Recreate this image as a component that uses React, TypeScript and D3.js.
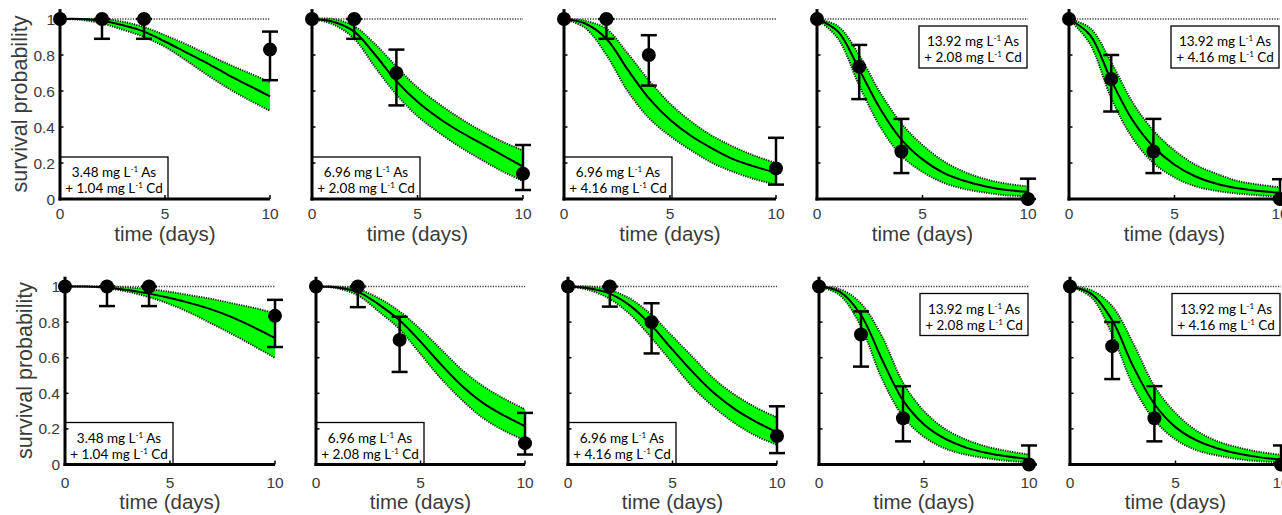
import React, { useEffect } from "react";
import * as d3 from "d3";

// ---------- data ----------
const timeGrid = [0, 1, 2, 3, 4, 5, 6, 7, 8, 9, 10];
const obsTimes = [0, 2, 4, 10];
const yTicks = [0, 0.2, 0.4, 0.6, 0.8, 1];
const yTickLabels = ["0", "0.2", "0.4", "0.6", "0.8", "1"];
const xTicks = [0, 5, 10];
const xTickLabels = ["0", "5", "10"];
const asConc = ["3.48", "6.96", "6.96", "13.92", "13.92"];
const cdConc = ["1.04", "2.08", "4.16", "2.08", "4.16"];

// top row (model fit 1)
const topMedian = [
  [1, 1, 0.99, 0.965, 0.93, 0.875, 0.815, 0.755, 0.69, 0.63, 0.57],
  [1, 0.985, 0.93, 0.8, 0.655, 0.54, 0.45, 0.375, 0.31, 0.245, 0.18],
  [1, 0.975, 0.89, 0.72, 0.56, 0.44, 0.35, 0.28, 0.22, 0.18, 0.145],
  [1, 0.93, 0.72, 0.5, 0.33, 0.22, 0.145, 0.1, 0.07, 0.05, 0.04],
  [1, 0.91, 0.66, 0.44, 0.29, 0.19, 0.125, 0.085, 0.06, 0.045, 0.035],
];
const topLower = [
  [1, 0.995, 0.975, 0.94, 0.9, 0.845, 0.77, 0.69, 0.615, 0.55, 0.49],
  [1, 0.97, 0.89, 0.73, 0.58, 0.46, 0.37, 0.29, 0.22, 0.155, 0.1],
  [1, 0.95, 0.8, 0.6, 0.45, 0.35, 0.27, 0.2, 0.15, 0.11, 0.08],
  [1, 0.89, 0.63, 0.4, 0.24, 0.15, 0.09, 0.055, 0.035, 0.02, 0.015],
  [1, 0.86, 0.56, 0.34, 0.2, 0.12, 0.07, 0.045, 0.03, 0.02, 0.012],
];
const topUpper = [
  [1, 1, 1, 0.985, 0.955, 0.91, 0.86, 0.805, 0.75, 0.7, 0.65],
  [1, 1, 0.96, 0.86, 0.735, 0.62, 0.53, 0.45, 0.38, 0.32, 0.27],
  [1, 0.99, 0.945, 0.81, 0.66, 0.53, 0.43, 0.35, 0.29, 0.24, 0.2],
  [1, 0.96, 0.8, 0.59, 0.42, 0.3, 0.21, 0.15, 0.11, 0.085, 0.07],
  [1, 0.95, 0.76, 0.54, 0.38, 0.27, 0.19, 0.14, 0.1, 0.08, 0.065],
];
const topObs = [
  [1, 1, 1, 0.83],
  [1, 1, 0.7, 0.14],
  [1, 1, 0.8, 0.17],
  [1, 0.735, 0.264, 0],
  [1, 0.667, 0.264, 0],
];
const topErrLow = [
  [1, 0.89, 0.89, 0.66],
  [1, 0.89, 0.52, 0.05],
  [1, 0.89, 0.63, 0.08],
  [1, 0.555, 0.144, 0],
  [1, 0.486, 0.144, 0],
];
const topErrHigh = [
  [1, 1, 1, 0.93],
  [1, 1, 0.83, 0.3],
  [1, 1, 0.91, 0.34],
  [1, 0.856, 0.445, 0.113],
  [1, 0.8, 0.445, 0.11],
];

// bottom row (model fit 2)
const bottomMedian = [
  [1, 1, 0.995, 0.98, 0.96, 0.935, 0.905, 0.87, 0.825, 0.77, 0.71],
  [1, 0.995, 0.97, 0.9, 0.81, 0.69, 0.56, 0.44, 0.345, 0.275, 0.215],
  [1, 0.99, 0.96, 0.89, 0.78, 0.645, 0.515, 0.4, 0.31, 0.24, 0.18],
  [1, 0.97, 0.84, 0.59, 0.36, 0.225, 0.145, 0.095, 0.065, 0.045, 0.03],
  [1, 0.96, 0.81, 0.55, 0.34, 0.21, 0.135, 0.09, 0.06, 0.04, 0.027],
];
const bottomLower = [
  [1, 1, 0.99, 0.97, 0.94, 0.9, 0.85, 0.79, 0.73, 0.665, 0.6],
  [1, 0.99, 0.95, 0.86, 0.76, 0.62, 0.48, 0.36, 0.26, 0.19, 0.135],
  [1, 0.98, 0.93, 0.84, 0.71, 0.57, 0.43, 0.32, 0.23, 0.16, 0.11],
  [1, 0.95, 0.775, 0.48, 0.27, 0.155, 0.09, 0.055, 0.035, 0.02, 0.013],
  [1, 0.94, 0.73, 0.44, 0.25, 0.14, 0.08, 0.05, 0.03, 0.018, 0.012],
];
const bottomUpper = [
  [1, 1, 1, 0.995, 0.985, 0.97, 0.95, 0.93, 0.905, 0.88, 0.85],
  [1, 1, 0.985, 0.935, 0.86, 0.76, 0.645, 0.53, 0.44, 0.37, 0.31],
  [1, 1, 0.98, 0.93, 0.84, 0.72, 0.6, 0.48, 0.39, 0.32, 0.265],
  [1, 0.985, 0.905, 0.72, 0.46, 0.3, 0.2, 0.14, 0.1, 0.075, 0.056],
  [1, 0.98, 0.89, 0.68, 0.44, 0.29, 0.19, 0.13, 0.095, 0.07, 0.055],
];
const bottomObs = [
  [1, 1, 1, 0.835],
  [1, 1, 0.7, 0.12],
  [1, 1, 0.8, 0.16],
  [1, 0.73, 0.26, 0],
  [1, 0.665, 0.26, 0],
];
const bottomErrLow = [
  [1, 0.89, 0.89, 0.66],
  [1, 0.884, 0.52, 0.056],
  [1, 0.887, 0.624, 0.064],
  [1, 0.55, 0.13, 0],
  [1, 0.48, 0.13, 0],
];
const bottomErrHigh = [
  [1, 1, 1, 0.925],
  [1, 1, 0.83, 0.29],
  [1, 1, 0.906, 0.327],
  [1, 0.86, 0.44, 0.107],
  [1, 0.8, 0.44, 0.107],
];

// ---------- layout ----------
const ROWS = [
  {
    y1: 19, y0: 199,
    x0s: [60, 312, 564, 817, 1069],
    x10s: [270, 523, 776, 1028, 1280],
    tickDy: 20, titleDy: 42,
    median: topMedian, lower: topLower, upper: topUpper,
    obs: topObs, errLow: topErrLow, errHigh: topErrHigh,
  },
  {
    y1: 286.5, y0: 464.5,
    x0s: [65, 316, 568, 819, 1070],
    x10s: [275, 525, 777, 1029, 1281],
    tickDy: 23.5, titleDy: 44.5,
    median: bottomMedian, lower: bottomLower, upper: bottomUpper,
    obs: bottomObs, errLow: bottomErrLow, errHigh: bottomErrHigh,
  },
];

const LABEL_FONT = "'Liberation Sans', Arial, sans-serif";
const LEGEND_FONT = "Lato, 'Open Sans', sans-serif";
const TEXT_COLOR = "#3a3a3a";

function Legend({ x, y, i }: { x: number; y: number; i: number }) {
  const w = 108;
  const h = 42;
  return (
    <g>
      <rect x={x} y={y} width={w} height={h} fill="#fff" stroke="#000" strokeWidth={1.3} />
      <text x={x + w / 2} y={y + 20} textAnchor="middle" fontFamily={LEGEND_FONT} fontSize={13.5} fill="#000">
        {asConc[i]} mg L<tspan dy={-5} fontSize={8}>-1</tspan>
        <tspan dy={5}> As</tspan>
      </text>
      <text x={x + w / 2} y={y + 36} textAnchor="middle" fontFamily={LEGEND_FONT} fontSize={13.5} fill="#000">
        + {cdConc[i]} mg L<tspan dy={-5} fontSize={8}>-1</tspan>
        <tspan dy={5}> Cd</tspan>
      </text>
    </g>
  );
}

function Panel({ row, i }: { row: typeof ROWS[number]; i: number }) {
  const x = d3.scaleLinear().domain([0, 10]).range([row.x0s[i], row.x10s[i]]);
  const y = d3.scaleLinear().domain([0, 1]).range([row.y0, row.y1]);
  const med = row.median[i];
  const lo = row.lower[i];
  const hi = row.upper[i];
  const idx = timeGrid.map((_, k) => k);
  const curve = d3.curveCatmullRom.alpha(0.5);

  const area = d3
    .area<number>()
    .x((k) => x(timeGrid[k]))
    .y0((k) => y(lo[k]))
    .y1((k) => y(hi[k]))
    .curve(curve);
  const lineOf = (vals: number[]) =>
    d3
      .line<number>()
      .x((k) => x(timeGrid[k]))
      .y((k) => y(vals[k]))
      .curve(curve)(idx) as string;

  const x0 = x(0);
  const y0 = y(0);
  const legendBottomLeft = i < 3;
  const showY = i === 0;
  const capHalf = 8;

  return (
    <g>
      {/* control line at 1 */}
      <line x1={x(0)} x2={x(10)} y1={y(1)} y2={y(1)} stroke="#444" strokeWidth={1.6} strokeDasharray="1.3 1.3" />
      {/* credible band */}
      <path d={area(idx) as string} fill="#00ff00" stroke="none" />
      <path d={lineOf(lo)} fill="none" stroke="#1a1a1a" strokeWidth={1.9} strokeDasharray="1.2 1.2" />
      <path d={lineOf(hi)} fill="none" stroke="#1a1a1a" strokeWidth={1.9} strokeDasharray="1.2 1.2" />
      <path d={lineOf(med)} fill="none" stroke="#000" strokeWidth={2} />

      {/* legend */}
      {legendBottomLeft ? (
        <Legend x={x0} y={y0 - 42} i={i} />
      ) : (
        <Legend x={x(10) - 109} y={y(1) + 7} i={i} />
      )}

      {/* axes */}
      <line x1={x0} x2={x0} y1={y(1.055)} y2={y0 + 1.5} stroke="#000" strokeWidth={3} />
      <line x1={x0 - 1.5} x2={x(10)} y1={y0} y2={y0} stroke="#000" strokeWidth={3} />
      {yTicks.slice(1, 5).map((t) => (
        <line key={"yt" + t} x1={x0} x2={x0 + 3.5} y1={y(t)} y2={y(t)} stroke="#000" strokeWidth={1.5} />
      ))}
      {xTicks.slice(1).map((t) => (
        <line key={"xt" + t} x1={x(t)} x2={x(t)} y1={y0} y2={y0 - 4} stroke="#000" strokeWidth={1.5} />
      ))}

      {/* x tick labels */}
      {xTicks.map((t, k) => (
        <text key={"xl" + t} x={x(t)} y={y0 + row.tickDy} textAnchor="middle" fontFamily={LABEL_FONT} fontSize={15.5} fill={TEXT_COLOR}>
          {xTickLabels[k]}
        </text>
      ))}
      <text x={(x(0) + x(10)) / 2} y={y0 + row.titleDy} textAnchor="middle" fontFamily={LABEL_FONT} fontSize={20.5} fill={TEXT_COLOR}>
        time (days)
      </text>

      {showY && (
        <g>
          {yTicks.map((t, k) => (
            <text key={"yl" + t} x={x0 - 5} y={y(t) + 5.5} textAnchor="end" fontFamily={LABEL_FONT} fontSize={15.5} fill={TEXT_COLOR}>
              {yTickLabels[k]}
            </text>
          ))}
          <text
            transform={`translate(${x0 - 33},${(row.y0 + row.y1) / 2 - 5}) rotate(-90)`}
            textAnchor="middle"
            fontFamily={LABEL_FONT}
            fontSize={21.5}
            fill={TEXT_COLOR}
          >
            survival probability
          </text>
        </g>
      )}

      {/* observations */}
      {obsTimes.map((t, k) => {
        const eL = row.errLow[i][k];
        const eH = row.errHigh[i][k];
        if (t === 0) return null;
        return (
          <g key={"eb" + t}>
            <line x1={x(t)} x2={x(t)} y1={y(eL)} y2={y(eH)} stroke="#000" strokeWidth={2.5} />
            <line x1={x(t) - capHalf} x2={x(t) + capHalf} y1={y(eL)} y2={y(eL)} stroke="#000" strokeWidth={2.5} />
            <line x1={x(t) - capHalf} x2={x(t) + capHalf} y1={y(eH)} y2={y(eH)} stroke="#000" strokeWidth={2.5} />
          </g>
        );
      })}
      {obsTimes.map((t, k) => (
        <circle key={"pt" + t} cx={x(t)} cy={y(row.obs[i][k])} r={7} fill="#000" />
      ))}
    </g>
  );
}

export default function App() {
  useEffect(() => {
    document.body.style.margin = "0";
  }, []);
  return (
    <svg
      width={1282}
      height={515}
      style={{ position: "absolute", left: 0, top: 0, background: "#fff" }}
    >
      <rect x={0} y={0} width={1282} height={515} fill="#fff" />
      {ROWS.map((row, r) => (
        <g key={"row" + r}>
          {[0, 1, 2, 3, 4].map((i) => (
            <Panel key={"p" + r + "-" + i} row={row} i={i} />
          ))}
        </g>
      ))}
    </svg>
  );
}
